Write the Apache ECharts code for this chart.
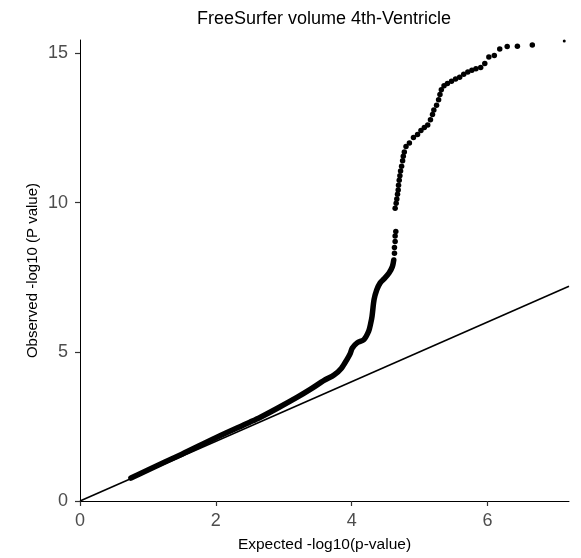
<!DOCTYPE html>
<html>
<head>
<meta charset="utf-8">
<script src="https://cdn.jsdelivr.net/npm/echarts@6/dist/echarts.min.js"></script>
<style>
html,body{margin:0;padding:0;background:#fff;}
#chart{width:581px;height:558px;}
</style>
</head>
<body>
<div id="chart"></div>
<script>
const titleText = "FreeSurfer volume 4th-Ventricle";
const xAxisTitle = "Expected -log10(p-value)";
const yAxisTitle = "Observed -log10 (P value)";
const xTicks = [0, 2, 4, 6];
const yTicks = [0, 5, 10, 15];
const xMax = 7.2;
const yMax = 15.45;
// dense part of the QQ curve (expected, observed)
const denseExpected = [0.75, 1.0, 1.5, 2.0, 2.5, 2.65, 2.9, 3.2, 3.39, 3.6, 3.74, 3.85, 3.93, 3.98, 4.01, 4.08, 4.18, 4.25, 4.28, 4.30, 4.33, 4.37, 4.42, 4.48, 4.55, 4.60, 4.62];
const denseObserved = [0.77, 1.04, 1.57, 2.12, 2.64, 2.80, 3.10, 3.48, 3.74, 4.05, 4.22, 4.45, 4.74, 4.95, 5.13, 5.30, 5.41, 5.69, 5.95, 6.19, 6.75, 7.08, 7.31, 7.45, 7.64, 7.86, 8.08];
// sparse top part (individual points)
const sparseExpected = [4.63, 4.63, 4.64, 4.64, 4.65, 4.64, 4.655, 4.665, 4.675, 4.685, 4.69, 4.70, 4.71, 4.72, 4.735, 4.75, 4.76, 4.775, 4.80, 4.85, 4.91, 4.97, 5.02, 5.07, 5.12, 5.16, 5.19, 5.21, 5.25, 5.28, 5.30, 5.32, 5.36, 5.41, 5.47, 5.53, 5.59, 5.65, 5.71, 5.77, 5.83, 5.90, 5.96, 6.02, 6.10, 6.18, 6.29, 6.44, 6.66];
const sparseObserved = [8.30, 8.50, 8.70, 8.88, 9.03, 9.81, 9.98, 10.12, 10.28, 10.42, 10.58, 10.75, 10.90, 11.06, 11.22, 11.40, 11.55, 11.70, 11.88, 12.00, 12.18, 12.28, 12.42, 12.52, 12.60, 12.78, 12.95, 13.10, 13.26, 13.45, 13.62, 13.78, 13.92, 13.99, 14.07, 14.14, 14.20, 14.30, 14.38, 14.44, 14.49, 14.53, 14.66, 14.88, 14.93, 15.15, 15.23, 15.24, 15.28];
// most extreme point (drawn small, at the panel's corner)
const extremeExpected = [7.13];
const extremeObserved = [15.42];

const densePts = denseExpected.map((x, i) => [x, denseObserved[i]]);
const sparsePts = sparseExpected.map((x, i) => [x, sparseObserved[i]]);
const extremePts = extremeExpected.map((x, i) => [x, extremeObserved[i]]);

const chart = echarts.init(document.getElementById('chart'), null, {renderer: 'canvas'});
const font = "'Liberation Sans', Arial, sans-serif";
chart.setOption({
  animation: false,
  backgroundColor: '#ffffff',
  title: {
    text: titleText,
    left: 319,
    top: 5,
    textAlign: 'center',
    textStyle: {fontFamily: font, fontSize: 18, fontWeight: 'normal', color: '#000'}
  },
  grid: {left: 80, right: 12, top: 40, bottom: 56, containLabel: false},
  xAxis: {
    type: 'value', min: 0, max: xMax,
    name: xAxisTitle, nameLocation: 'middle', nameGap: 36, nameMoveOverlap: false,
    nameTextStyle: {fontFamily: font, fontSize: 15.5, color: '#000'},
    axisLine: {show: true, lineStyle: {color: '#000', width: 1}},
    axisTick: {show: true, length: 5, lineStyle: {color: '#333', width: 1.2}, customValues: xTicks},
    axisLabel: {fontFamily: font, fontSize: 18, color: '#4d4d4d', margin: 11, customValues: xTicks},
    splitLine: {show: false}
  },
  yAxis: {
    type: 'value', min: 0, max: yMax,
    name: yAxisTitle, nameLocation: 'middle', nameGap: 40, nameRotate: 90, nameMoveOverlap: false,
    nameTextStyle: {fontFamily: font, fontSize: 15, color: '#000'},
    axisLine: {show: true, lineStyle: {color: '#000', width: 1}},
    axisTick: {show: true, length: 5, lineStyle: {color: '#333', width: 1.2}, customValues: yTicks},
    axisLabel: {fontFamily: font, fontSize: 18, color: '#4d4d4d', margin: 12, customValues: yTicks},
    splitLine: {show: false}
  },
  series: [
    {
      type: 'line', data: [[0, 0], [xMax, xMax]], showSymbol: false, symbol: 'none',
      lineStyle: {color: '#000', width: 1.6}, z: 3, silent: true
    },
    {
      type: 'line', data: densePts, showSymbol: false, symbol: 'none', smooth: 0.3,
      lineStyle: {color: '#000', width: 5.5, cap: 'round', join: 'round'}, z: 2, silent: true
    },
    {
      type: 'scatter', data: sparsePts, symbol: 'circle', symbolSize: 5.5,
      itemStyle: {color: '#000', opacity: 1}, z: 2, silent: true
    },
    {
      type: 'scatter', data: extremePts, symbol: 'circle', symbolSize: 3,
      itemStyle: {color: '#000', opacity: 1}, z: 2, silent: true
    }
  ]
});
</script>
</body>
</html>
